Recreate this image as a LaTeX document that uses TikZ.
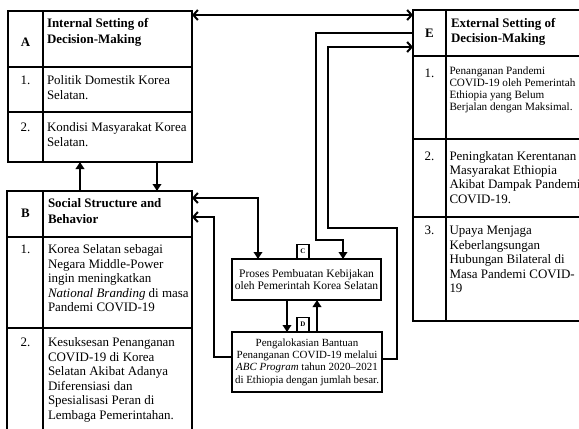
\documentclass[tikz,border=0pt]{standalone}
\usepackage{fontspec}
\setmainfont{Liberation Serif}
\usetikzlibrary{arrows.meta}
\tikzset{
  tbl/.style={draw, line width=1.5bp, anchor=north west, inner sep=0pt, outer sep=0pt},
  rule/.style={line width=1.5bp},
  procbox/.style={draw, line width=2bp, anchor=north west, inner sep=0pt, outer sep=0pt,
    align=center},
  labbox/.style={draw, fill=white, line width=1.5bp, anchor=south, inner sep=0pt,
    minimum width=12bp, minimum height=14bp, font=\fontsize{7}{8}\selectfont\bfseries},
  big/.style={inner sep=0pt, outer sep=0pt, anchor=base west, align=left,
    font=\fontsize{13}{14.6}\selectfont},
  hdr/.style={big, font=\fontsize{13}{15.5}\selectfont\bfseries},
  small/.style={big, font=\fontsize{11.2}{12.3}\selectfont},
  num/.style={inner sep=0pt, outer sep=0pt, anchor=base, font=\fontsize{13}{15}\selectfont},
  letter/.style={num, font=\fontsize{13}{15}\selectfont\bfseries},
  conn/.style={line width=2bp},
  barb/.tip={Straight Barb[length=4.5bp,width=10bp]},
  tri/.tip={Triangle[length=7bp,width=8.5bp]},
}
\begin{document}
\begin{tikzpicture}[x=1bp,y=-1bp]
\useasboundingbox (0,0) rectangle (579,428);
\clip (0,0) rectangle (579,428);

% text nodes below are placed by the baseline of their LAST line

% ---------- Box A ----------
\node[tbl, minimum width=184bp, minimum height=151bp] (A) at (8,11) {};
\draw[rule] (43,11) -- (43,162);
\draw[rule] (8,67) -- (192,67);
\draw[rule] (8,112) -- (192,112);
\node[letter] (Al) at (25.5,46) {A};
\node[hdr] (Ah) at (47,43) {Internal Setting of\\Decision-Making};
\node[num] (An1) at (25.5,84.5) {1.};
\node[big] (At1) at (47,99.1) {Politik Domestik Korea\\Selatan.};
\node[num] (An2) at (25.5,131.5) {2.};
\node[big] (At2) at (47,146.1) {Kondisi Masyarakat Korea\\Selatan.};

% ---------- Box B ----------
\node[tbl, minimum width=185bp, minimum height=250bp] (B) at (7,191) {};
\draw[rule] (43,191) -- (43,441);
\draw[rule] (7,237) -- (192,237);
\draw[rule] (7,328) -- (192,328);
\node[letter] (Bl) at (25.5,217.5) {B};
\node[hdr] (Bh) at (48,223) {Social Structure and\\Behavior};
\node[num] (Bn1) at (25.5,253.5) {1.};
\node[big] (Bt1) at (48,311.9) {Korea Selatan sebagai\\Negara Middle-Power\\ingin meningkatkan\\\textit{National Branding} di masa\\Pandemi COVID-19};
\node[num] (Bn2) at (25.5,346.5) {2.};
\node[big] (Bt2) at (48,419.5) {Kesuksesan Penanganan\\COVID-19 di Korea\\Selatan Akibat Adanya\\Diferensiasi dan\\Spesialisasi Peran di\\Lembaga Pemerintahan.};

% ---------- Box E ----------
\node[tbl, minimum width=190bp, minimum height=311bp] (E) at (413,10) {};
\draw[rule] (446,10) -- (446,321);
\draw[rule] (413,56) -- (603,56);
\draw[rule] (413,139) -- (603,139);
\draw[rule] (413,217) -- (603,217);
\node[letter] (El) at (429.5,37.5) {E};
\node[hdr] (Eh) at (451,42.5) {External Setting of\\Decision-Making};
\node[num] (En1) at (429.5,77) {1.};
\node[small] (Et1) at (449.5,110.9) {Penanganan Pandemi\\COVID-19 oleh Pemerintah\\Ethiopia yang Belum\\Berjalan dengan Maksimal.};
\node[num] (En2) at (429.5,160.5) {2.};
\node[big, font=\fontsize{13}{14.2}\selectfont] (Et2) at (449.5,203.1) {Peningkatan Kerentanan\\Masyarakat Ethiopia\\Akibat Dampak Pandemi\\COVID-19.};
\node[num] (En3) at (429.5,234.5) {3.};
\node[big] (Et3) at (449.5,292.9) {Upaya Menjaga\\Keberlangsungan\\Hubungan Bilateral di\\Masa Pandemi COVID-\\19};

% ---------- Boxes C and D ----------
\node[procbox, minimum width=149bp, minimum height=41bp, font=\fontsize{11.6}{12.5}\selectfont] (C) at (232,259)
  {Proses Pembuatan Kebijakan\\oleh Pemerintah Korea Selatan};
\node[procbox, minimum width=150bp, minimum height=60bp, font=\fontsize{11}{12.4}\selectfont] (D) at (232,332)
  {Pengalokasian Bantuan\\Penanganan COVID-19 melalui\\\textit{ABC Program} tahun 2020–2021\\di Ethiopia dengan jumlah besar.};
\node[labbox] (Cl) at (303,259) {C};
\node[labbox] (Dl) at (303,332) {D};

% ---------- helper coordinates ----------
\coordinate (yAE) at (0,15);
\coordinate (xUp) at (80,0);
\coordinate (xDn) at (157,0);
\coordinate (kBC) at (258,198);
\coordinate (yDB) at (0,357);
\coordinate (kDB) at (214,217);
\coordinate (yEC) at (0,33);
\coordinate (kEC) at (316,240);
\coordinate (xEC) at (343,0);
\coordinate (yDE) at (0,359);
\coordinate (kDE1) at (397,228);
\coordinate (kDE2) at (328,47);
\coordinate (xCD) at (287,0);
\coordinate (xDC) at (317,0);

% ---------- connectors ----------
\draw[conn, {barb}-{barb}] (A.east |- yAE) -- (E.west |- yAE);
\draw[conn, -{tri}] (B.north -| xUp) -- (A.south -| xUp);
\draw[conn, -{tri}] (A.south -| xDn) -- (B.north -| xDn);
\draw[conn, {barb}-{tri}] (B.east |- kBC) -| (C.north -| kBC);
\draw[conn, -{barb}] (D.west |- yDB) -| (kDB) -- (B.east |- kDB);
\draw[conn, -{tri}] (E.west |- yEC) -| (kEC) -| (C.north -| xEC);
\draw[conn, -{barb}] (D.east |- yDE) -| (kDE1) -| (kDE2) -- (E.west |- kDE2);
\draw[conn, -{tri}] (C.south -| xCD) -- (D.north -| xCD);
\draw[conn, -{tri}] (D.north -| xDC) -- (C.south -| xDC);
\end{tikzpicture}
\end{document}
